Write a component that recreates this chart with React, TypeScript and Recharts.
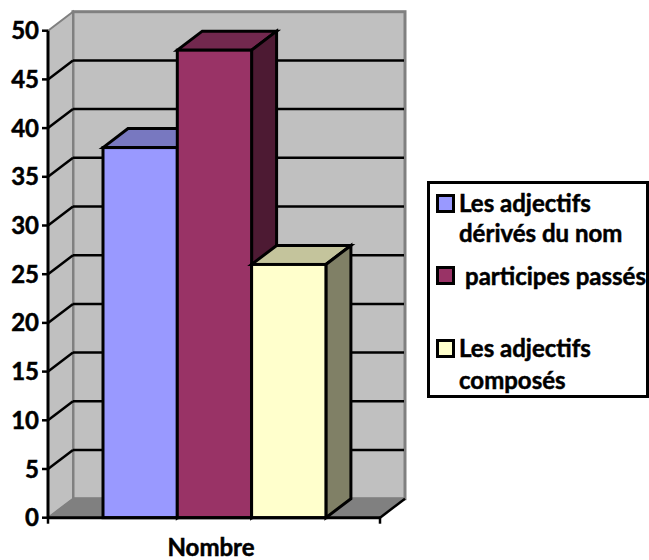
import React from "react";
import { BarChart, Bar, XAxis, YAxis, CartesianGrid, ReferenceArea, Legend } from "recharts";

const categories = ["Nombre"];
const derivedValues = [38];
const participleValues = [48];
const compoundValues = [26];
const yTicks = [0, 5, 10, 15, 20, 25, 30, 35, 40, 45, 50];

const rows = categories.map((name, i) => ({
  name,
  derived: derivedValues[i],
  participle: participleValues[i],
  compound: compoundValues[i],
}));

const DX = 25;
const DY = 19;
const FONT = "Lato, Carlito, sans-serif";
const PLOT_TOP = 30.7;
const AXIS_HEIGHT = 42.3;
const PLOT_BOTTOM = 560 - AXIS_HEIGHT;

const Walls = (p: any) => {
  const { x, y, width: w, height: h } = p;
  const b = y + h;
  const r = x + w;
  return (
    <g>
      <rect x={x + DX} y={y - DY} width={w} height={h} fill="#C0C0C0" stroke="#808080" strokeWidth={3} />
      <polygon points={`${x},${y} ${x + DX},${y - DY} ${x + DX},${b - DY} ${x},${b}`} fill="#C0C0C0" stroke="#808080" strokeWidth={2} />
      <polygon points={`${x},${b} ${x + DX},${b - DY} ${r + DX},${b - DY} ${r},${b}`} fill="#808080" stroke="#808080" strokeWidth={1} />
      <line x1={r} y1={b} x2={r + DX} y2={b - DY} stroke="#000" strokeWidth={2.5} />
      <line x1={x} y1={b} x2={x} y2={b + 6} stroke="#000" strokeWidth={2.5} />
      <line x1={r} y1={b} x2={r} y2={b + 6} stroke="#000" strokeWidth={2.5} />
    </g>
  );
};

const GridLine = (p: any) => {
  const { x1, x2, y1 } = p;
  if (y1 <= PLOT_TOP + 1 || y1 >= PLOT_BOTTOM - 1) return <g />;
  return (
    <g>
      <line x1={x1} y1={y1} x2={x1 + DX} y2={y1 - DY} stroke="#000" strokeWidth={2.5} />
      <line x1={x1 + DX} y1={y1 - DY} x2={x2 + DX - 1} y2={y1 - DY} stroke="#000" strokeWidth={2.5} />
    </g>
  );
};

const makeBar = (top: string, side: string) => (p: any) => {
  const { x, y, width: w, height: h, fill } = p;
  const r = x + w;
  return (
    <g stroke="#000" strokeWidth={3} strokeLinejoin="miter">
      <polygon points={`${x},${y} ${x + DX},${y - DY} ${r + DX},${y - DY} ${r},${y}`} fill={top} />
      <polygon points={`${r},${y} ${r + DX},${y - DY} ${r + DX},${y + h - DY} ${r},${y + h}`} fill={side} />
      <rect x={x} y={y} width={w} height={h} fill={fill} />
    </g>
  );
};

const legendItems = [
  { lines: ["Les adjectifs", "dérivés du nom"], color: "#9999FF", lineTops: [189, 219], textLeft: 32, markerTop: 13 },
  { lines: ["participes passés"], color: "#993366", lineTops: [262], textLeft: 38, markerTop: 85 },
  { lines: ["Les adjectifs", "composés"], color: "#FFFFCC", lineTops: [334, 366], textLeft: 32, markerTop: 158 },
];

const LegendBox = () => (
  <div style={{ position: "relative", width: 222, height: 217, boxSizing: "border-box", border: "3px solid #000", background: "#fff", fontFamily: FONT, fontWeight: 700, fontSize: 24, color: "#000", WebkitTextStroke: "0.5px #000" }}>
    {legendItems.map((it) => (
      <React.Fragment key={it.lines[0] + it.markerTop}>
        <div style={{ position: "absolute", left: 6, top: it.markerTop - 3, width: 13, height: 13, background: it.color, border: "3px solid #000" }} />
        {it.lines.map((t, i) => (
          <div key={t} style={{ position: "absolute", left: it.textLeft - 3, top: it.lineTops[i] - 181 - 3, lineHeight: "28px", whiteSpace: "nowrap" }}>{t}</div>
        ))}
      </React.Fragment>
    ))}
  </div>
);

export default function App() {
  return (
    <div style={{ position: "absolute", left: 0, top: 0, width: 649, height: 560, background: "#fff" }}>
      <BarChart
        width={649}
        height={560}
        data={rows}
        margin={{ top: PLOT_TOP, right: 269, bottom: 0, left: 0 }}
        barSize={74.3}
        barGap={0}
      >
        <ReferenceArea y1={0} y2={50} shape={Walls} ifOverflow="visible" zIndex={-200} fill="none" stroke="none" />
        <CartesianGrid vertical={false} horizontal={GridLine as any} />
        <XAxis
          dataKey="name"
          height={AXIS_HEIGHT}
          axisLine={{ stroke: "#000", strokeWidth: 3 }}
          tickLine={false}
          tick={{ fill: "#000", stroke: "#000", strokeWidth: 0.5, fontFamily: FONT, fontWeight: 700, fontSize: 24, dx: -3 }}
          tickMargin={15}
        />
        <YAxis
          width={48}
          domain={[0, 50]}
          ticks={yTicks}
          interval={0}
          axisLine={{ stroke: "#000", strokeWidth: 3 }}
          tickLine={{ stroke: "#000", strokeWidth: 2.5 }}
          tickSize={6}
          tickMargin={3}
          tick={{ fill: "#000", stroke: "#000", strokeWidth: 0.5, fontFamily: FONT, fontWeight: 700, fontSize: 24 }}
        />
        <Legend
          layout="vertical"
          align="center"
          verticalAlign="middle"
          content={<LegendBox />}
          wrapperStyle={{ position: "absolute", left: 427, top: 181, width: 222, height: 217, margin: 0 }}
        />
        <Bar dataKey="derived" name="Les adjectifs dérivés du nom" fill="#9999FF" isAnimationActive={false} shape={makeBar("#7878C0", "#4D4D80")} />
        <Bar dataKey="participle" name="participes passés" fill="#993366" isAnimationActive={false} shape={makeBar("#72284E", "#4D1A33")} />
        <Bar dataKey="compound" name="Les adjectifs composés" fill="#FFFFCC" isAnimationActive={false} shape={makeBar("#C4C49C", "#808066")} />
      </BarChart>
    </div>
  );
}
